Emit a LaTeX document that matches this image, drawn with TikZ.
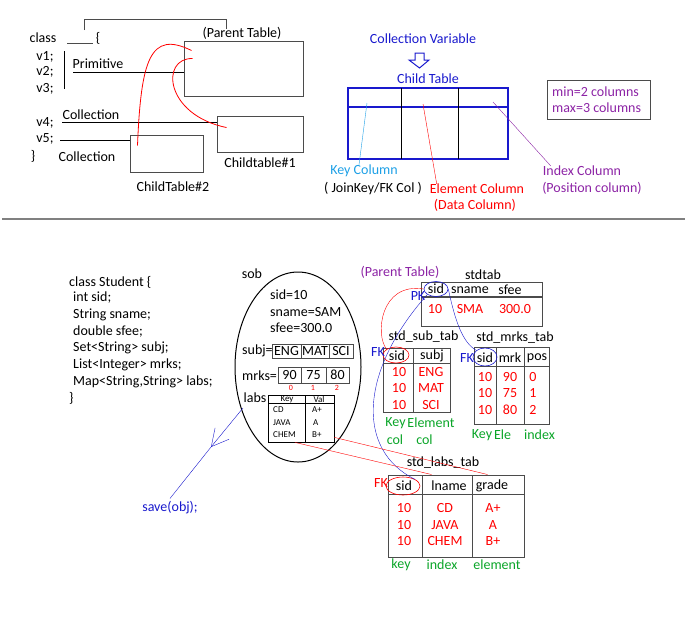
\documentclass[tikz,border=0pt]{standalone}
\usepackage{fontspec}
\setmainfont{Carlito}
\usetikzlibrary{arrows.meta}
\usetikzlibrary{shapes.geometric}
\definecolor{dblue}{RGB}{25,25,205}
\definecolor{keyblue}{RGB}{30,160,230}
\definecolor{vio}{RGB}{140,35,165}
\definecolor{grn}{RGB}{10,165,40}
\definecolor{gry}{RGB}{75,75,75}

\begin{document}
\begin{tikzpicture}[x=1pt,y=-1pt,
        every node/.style={inner sep=0pt, font=\fontsize{14}{16}\selectfont},
        tbox/.style={draw=gry, line width=1pt},
        tline/.style={gry, line width=1pt},
        small/.style={font=\fontsize{9}{10}\selectfont},
        tiny/.style={red, font=\fontsize{8}{9}\selectfont},
        oval/.style={ellipse, draw, line width=0.6pt}]
        \useasboundingbox (0,0) rectangle (687,625);

        \draw[tline] (84,30) -- (84,19) -- (226,19) -- (226,29);
        \node (cls) at (43,38) {class};
        \draw[tline] (67,43) -- (93,43);
        \node (brace) at (98,38) {\{};
        \node (v1) at (45,57) {v1;};
        \node (v2) at (45,72) {v2;};
        \node (v3) at (45,89) {v3;};
        \node (v4) at (45,123) {v4;};
        \node (v5) at (45,139) {v5;};
        \node (endcls) at (33,156) {\}};
        \draw[black, thick] (64,51) -- (64,89);
        \node (primtxt) at (98,64) {Primitive};
        \node (coll1) at (91,115) {Collection};
        \node (coll2) at (87,157) {Collection};
        \node[tbox, minimum width=119, minimum height=55] (parent) at (243.5,68.5) {};
        \node (parenttxt) at (242,33) {(Parent Table)};
        \node[tbox, minimum width=86, minimum height=36] (child1) at (260,134) {};
        \node (c1txt) at (260,163) {Childtable\#1};
        \node[tbox, minimum width=73, minimum height=37] (child2) at (166.5,153.5) {};
        \node (c2txt) at (173,187) {ChildTable\#2};
        \coordinate (p1) at (73,72);
        \coordinate (p4) at (62,122);
        \coordinate (p5) at (60,140);
        \draw[black, thick] (p1) -- (p1 -| parent.west);
        \draw[black, thick] (p4) -- (p4 -| child1.west);
        \draw[black, thick] (p5) -- (p5 -| child2.west);
        \draw[red, thick] ([shift={(8,11)}]child2.north west) .. controls (141,60) and (150,30) .. ([shift={(8,10)}]parent.north west);
        \draw[red, thick] ([shift={(9,18)}]parent.north west) .. controls (160,58) and (165,115) .. ([shift={(10,12)}]child1.north west);

        \node[dblue] (cvar) at (423,39) {Collection Variable};
        \draw[dblue, line width=1pt] (415,53) -- (424,53) -- (424,60) -- (429,60) -- (419.5,68) -- (409,60) -- (415,60) -- cycle;
        \node[dblue] (ctab) at (428,79) {Child Table};
        \node[draw=dblue, line width=1.2pt, minimum width=160, minimum height=71] (ct) at (428,123.5) {};
        \draw[dblue, line width=1.2pt] (348,107) -- (508,107);
        \draw[black, line width=1pt] (401,88) -- (401,159);
        \draw[black, line width=1pt] (458,88) -- (458,159);
        \node[keyblue] (keycol) at (364,171) {Key Column};
        \node (joinkey) at (373,188) {( JoinKey/FK Col )};
        \node[red] (elemcol) at (477,189) {Element Column};
        \node[red] (datacol) at (475,205) {(Data Column)};
        \node[vio] (idxcol) at (582,171) {Index Column};
        \node[vio] (poscol) at (592,188) {(Position column)};
        \draw[keyblue] (367,103) -- ([xshift=-5]keycol.north);
        \draw[red] (423,104) -- ([xshift=7]elemcol.north west);
        \draw[vio] (493,102) -- ([xshift=8]idxcol.north west);
        \node[tbox, minimum width=103, minimum height=39] (minmax) at (598.5,99.5) {};
        \node[vio, anchor=west] (mintxt) at (552,92) {min=2 columns};
        \node[vio, anchor=west] (maxtxt) at (552,108) {max=3 columns};

        \draw[gray, line width=1.5pt] (2,219) -- (685,219);

        \node[anchor=west] (c0) at (69,282) {class Student \{};
        \node[anchor=west] (c1) at (73,298) {int sid;};
        \node[anchor=west] (c2) at (73,315) {String sname;};
        \node[anchor=west] (c3) at (73,332) {double sfee;};
        \node[anchor=west] (c4) at (73,348) {Set<String> subj;};
        \node[anchor=west] (c5) at (73,365) {List<Integer> mrks;};
        \node[anchor=west] (c6) at (73,382) {Map<String,String> labs;};
        \node[anchor=west] (c7) at (69,398) {\}};

        \node (sobtxt) at (252,274) {sob};
        \node[ellipse, draw, line width=1pt, minimum width=126, minimum height=190] (sob) at (298,367) {};
        \node[anchor=west] (osid) at (270,295) {sid=10};
        \node[anchor=west] (oname) at (270,312) {sname=SAM};
        \node[anchor=west] (ofee) at (270,328) {sfee=300.0};
        \node[anchor=west] (osubj) at (242,351) {subj=};
        \draw[tline] (272,344) rectangle (353,358);
        \draw[tline] (301,344) -- (301,358);
        \draw[tline] (329,344) -- (329,358);
        \node (seng) at (286.5,351) {ENG};
        \node (smat) at (315,351) {MAT};
        \node (ssci) at (341,351) {SCI};
        \node[anchor=west] (omrks) at (242,376) {mrks=};
        \draw[tline] (278,367) rectangle (349,383);
        \draw[tline] (301,367) -- (301,383);
        \draw[tline] (326,367) -- (326,383);
        \node (m90) at (289.5,375) {90};
        \node (m75) at (313.5,375) {75};
        \node (m80) at (337.5,375) {80};
        \node[tiny] (i0) at (291,387.5) {0};
        \node[tiny] (i1) at (313,387.5) {1};
        \node[tiny] (i2) at (337,387.5) {2};
        \node (labs) at (255,398) {labs};
        \node[draw, line width=0.8pt, minimum width=66, minimum height=47] (labtab) at (301,418.5) {};
        \draw[line width=0.8pt] (268,403) -- (334,403);
        \draw[line width=0.8pt] (305,395) -- (305,442);
        \node[small] (lkey) at (287,399) {Key};
        \node[small] (lval) at (319,399) {Val};
        \node[small, anchor=west] (lcd) at (273,410) {CD};
        \node[small, anchor=west] (ljava) at (273,423) {JAVA};
        \node[small, anchor=west] (lchem) at (273,435) {CHEM};
        \node[small, anchor=west] (lap) at (312,410) {A+};
        \node[small, anchor=west] (la) at (313,423) {A};
        \node[small, anchor=west] (lbp) at (312,435) {B+};

        \node[dblue] (save) at (170,508) {save(obj);};
        \coordinate (savehead) at (211,447);
        \draw[dblue, -{Straight Barb[length=17pt,width=18pt]}] ([shift={(-12,10)}]labs.center) -- (savehead);
        \draw[dblue] (savehead) -- ([yshift=3]save.north);

        \node[vio] (ptab) at (400,272) {(Parent Table)};
        \node (stdtxt) at (483,275) {stdtab};
        \node[tbox, minimum width=121, minimum height=44] (stdtab) at (481.5,304) {};
        \draw[gry, line width=1.6pt] (421,297) -- (542,297);
        \node[oval, draw=dblue, minimum width=24, minimum height=15] (pk) at (436,289) {};
        \node at (pk) {sid};
        \node (hname) at (470,290) {sname};
        \node (hfee) at (510,290) {sfee};
        \node[red] (d10) at (435,309) {10};
        \node[red] (dsma) at (470,309) {SMA};
        \node[red] (dfee) at (515,309) {300.0};
        \node[dblue] (pktxt) at (418,296) {PK};

        \node (subtxt) at (423.5,337) {std\_sub\_tab};
        \node[tbox, minimum width=67, minimum height=64] (subtab) at (416.5,380) {};
        \draw[tline] (413,348) -- (413,412);
        \draw[tline] (383,363) -- (450,363);
        \node[oval, draw=red, minimum width=26, minimum height=16] (ssid) at (396,355) {};
        \node at (397,356) {sid};
        \node (hsubj) at (432,356) {subj};
        \node[dblue] (fk1) at (378,352) {FK};
        \foreach \yy/\val in {372/ENG, 388/MAT, 405/SCI} {
                \node[red] at (399,\yy) {10};
                \node[red] at (431,\yy) {\val};
        }
        \node[grn] (gkey1) at (395.5,423) {Key};
        \node[grn] (gel1) at (431,423) {Element};
        \node[grn] (gcol1) at (395,440) {col};
        \node[grn] (gcol2) at (424.5,440) {col};

        \node (mrkstxt) at (515,338) {std\_mrks\_tab};
        \node[tbox, minimum width=75, minimum height=77] (mrkstab) at (511.5,385.5) {};
        \draw[tline] (496,347) -- (496,424);
        \draw[tline] (524,347) -- (524,424);
        \draw[tline] (474,366) -- (549,366);
        \node[oval, draw=dblue, minimum width=24, minimum height=18] (msid) at (485,357) {};
        \node at (485,358) {sid};
        \node (hmrk) at (510,358) {mrk};
        \node (hpos) at (537,358) {pos};
        \node[dblue] (fk2) at (467,358) {FK};
        \foreach \yy/\mk/\ps in {377/90/0, 393/75/1, 410/80/2} {
                \node[red] at (485,\yy) {10};
                \node[red] at (510,\yy) {\mk};
                \node[red] at (533,\yy) {\ps};
        }
        \node[grn] (gkey2) at (482,435) {Key};
        \node[grn] (gele2) at (502.5,435) {Ele};
        \node[grn] (gidx2) at (539.5,435) {index};

        \node (labstxt) at (443,463) {std\_labs\_tab};
        \node[tbox, minimum width=136, minimum height=82] (lt) at (456,516) {};
        \draw[tline] (422,475) -- (422,557);
        \draw[tline] (472,475) -- (472,557);
        \draw[tline] (388,494) -- (524,494);
        \node[oval, draw=red, minimum width=34, minimum height=18] (lsid) at (403,486) {};
        \node at (404,486) {sid};
        \node (hlname) at (449,486) {lname};
        \node (hgrade) at (492,486) {grade};
        \node[red] (fk3) at (381,483) {FK};
        \foreach \yy/\ln/\gr in {508/CD/A+, 525/JAVA/A, 541/CHEM/B+} {
                \node[red] at (404,\yy) {10};
                \node[red] at (445,\yy) {\ln};
                \node[red] at (493,\yy) {\gr};
        }
        \node[grn] (gkey3) at (401,565) {key};
        \node[grn] (gidx3) at (442,565) {index};
        \node[grn] (gelem3) at (497,565) {element};

        \draw[dblue] (pk.south west) .. controls (360,370) and (355,450) .. (lsid.north east);
        \draw[dblue] (pk.east) .. controls (455,320) and (462,342) .. (msid.north west);
        \draw[red] (pk.west) .. controls (380,282) and (375,335) .. (ssid.north west);
        \draw[red] ([yshift=5]labtab.south east) -- ([xshift=100]lt.north west);
        \draw[red] ([xshift=-6]labtab.south) -- ([xshift=44]lt.north west);
    \end{tikzpicture}
\end{document}
